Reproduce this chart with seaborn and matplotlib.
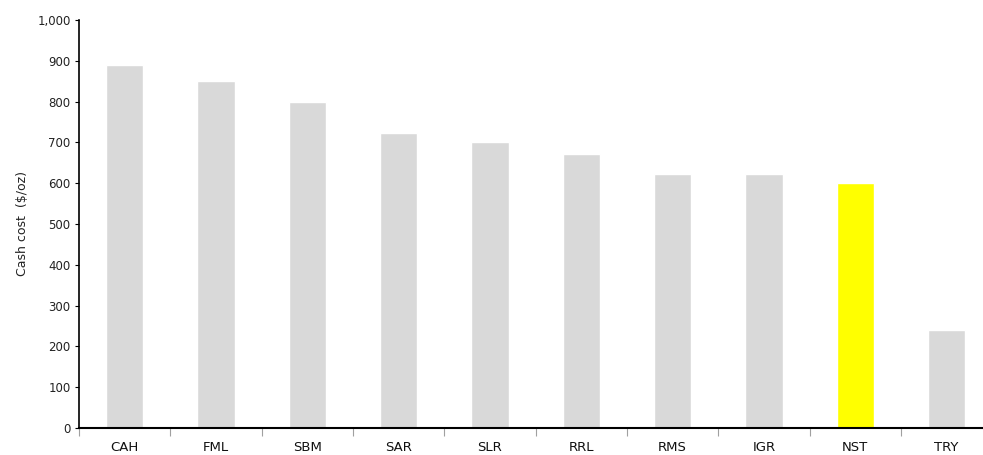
import matplotlib
matplotlib.use("Agg")
import matplotlib.pyplot as plt
import seaborn as sns
import pandas as pd
import numpy as np
from matplotlib.ticker import FixedLocator, FuncFormatter

categories = ["CAH", "FML", "SBM", "SAR", "SLR", "RRL", "RMS", "IGR", "NST", "TRY"]
cash_cost = [890, 851, 799, 723, 700, 672, 623, 622, 600, 240]
highlight = "NST"

sns.set_theme(style="white")
plt.rcParams['font.family'] = ['DejaVu Sans']

df = pd.DataFrame({"company": categories, "cost": cash_cost})
colors = {c: ("#ffff00" if c == highlight else "#d9d9d9") for c in categories}

fig = plt.figure(figsize=(9.83, 4.55), dpi=100)
ax = fig.add_axes([0.0804, 0.0593, 0.929, 0.897])
sns.barplot(data=df, x="company", y="cost", hue="company", palette=colors,
            width=0.41, legend=False, ax=ax, saturation=1)

ax.set_xlim(-0.5, len(categories) - 0.5)
ax.set_ylim(0, 1000)
ax.set_yticks(np.arange(0, 1001, 100))
ax.yaxis.set_major_formatter(FuncFormatter(lambda v, p: f"{int(v):,}"))
ax.set_ylabel("Cash cost  ($/oz)", fontsize=9, color="#222222", labelpad=6)
ax.set_xlabel("")

for s in ["top", "right"]:
    ax.spines[s].set_visible(False)
ax.spines["left"].set_color("black")
ax.spines["left"].set_linewidth(1.2)
ax.spines["bottom"].set_color("black")
ax.spines["bottom"].set_linewidth(1.5)

ax.tick_params(axis="y", which="major", left=True, length=3, width=0.8,
               color="black", labelsize=8.5, labelcolor="#222222", pad=3)
ax.tick_params(axis="x", which="major", bottom=False, length=0,
               labelsize=9.5, labelcolor="#111111", pad=9.5)
ax.xaxis.set_minor_locator(FixedLocator(np.arange(-0.5, len(categories) - 0.4, 1.0)))
ax.tick_params(axis="x", which="minor", bottom=True, length=6, width=0.8,
               color="#a0a0a0", direction="out")

fig.savefig("out.png", dpi=100, facecolor="white")
